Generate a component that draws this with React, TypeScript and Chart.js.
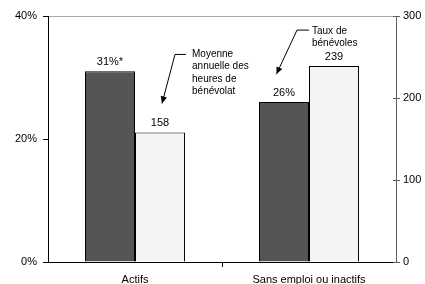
import React, { useEffect, useRef } from "react";
import { Chart, registerables } from "chart.js";

Chart.register(...registerables);

const categories = ["Actifs", "Sans emploi ou inactifs"];
const tauxBenevoles = [31, 26];
const tauxLabels = ["31%*", "26%"];
const heuresMoyennes = [158, 239];
const heuresLabels = ["158", "239"];
const leftTicks = [0, 20, 40];
const rightTicks = [0, 100, 200, 300];
const annotationHeures = ["Moyenne", "annuelle des", "heures de", "bénévolat"];
const annotationTaux = ["Taux de", "bénévoles"];

const FONT = "'Liberation Sans', Arial, Helvetica, sans-serif";

const drawArrow = (
  ctx: CanvasRenderingContext2D,
  sx: number,
  sy: number,
  ex: number,
  ey: number,
  hx: number
) => {
  ctx.save();
  ctx.strokeStyle = "#000";
  ctx.fillStyle = "#000";
  ctx.lineWidth = 1;
  ctx.beginPath();
  ctx.moveTo(hx, sy);
  ctx.lineTo(sx, sy);
  ctx.lineTo(ex, ey);
  ctx.stroke();
  const ang = Math.atan2(ey - sy, ex - sx);
  const len = 7;
  const w = 3.2;
  ctx.beginPath();
  ctx.moveTo(ex, ey);
  ctx.lineTo(
    ex - len * Math.cos(ang) + w * Math.sin(ang),
    ey - len * Math.sin(ang) - w * Math.cos(ang)
  );
  ctx.lineTo(
    ex - len * Math.cos(ang) - w * Math.sin(ang),
    ey - len * Math.sin(ang) + w * Math.cos(ang)
  );
  ctx.closePath();
  ctx.fill();
  ctx.restore();
};

const overlayPlugin = {
  id: "overlay",
  afterDatasetsDraw(chart: any) {
    const ctx: CanvasRenderingContext2D = chart.ctx;
    const metaA = chart.getDatasetMeta(0);
    const metaB = chart.getDatasetMeta(1);
    ctx.save();
    ctx.fillStyle = "#000";
    ctx.font = `11px ${FONT}`;
    ctx.textAlign = "center";
    ctx.textBaseline = "bottom";
    metaA.data.forEach((bar: any, i: number) => {
      ctx.fillText(tauxLabels[i], bar.x, bar.y - 4);
    });
    metaB.data.forEach((bar: any, i: number) => {
      ctx.fillText(heuresLabels[i], bar.x, bar.y - 4);
    });

    // inward ticks on right axis
    const y1 = chart.scales.y1;
    ctx.strokeStyle = "#606060";
    ctx.lineWidth = 1;
    y1.ticks.forEach((t: any) => {
      const y = Math.round(y1.getPixelForValue(t.value)) + 0.5;
      ctx.beginPath();
      ctx.moveTo(y1.left - 3, y);
      ctx.lineTo(y1.left, y);
      ctx.stroke();
    });

    // annotations
    ctx.font = `10px ${FONT}`;
    ctx.textAlign = "left";
    ctx.textBaseline = "middle";
    const b1 = metaB.data[0];
    const tx1 = b1.x + 32;
    const ty1 = b1.y - 78;
    annotationHeures.forEach((s, i) => ctx.fillText(s, tx1, ty1 + i * 12.3));
    drawArrow(ctx, b1.x + 15, ty1, b1.x + 2, b1.y - 29, b1.x + 26);

    const b2 = metaA.data[1];
    const tx2 = b2.x + 28;
    const ty2 = b2.y - 71;
    annotationTaux.forEach((s, i) => ctx.fillText(s, tx2, ty2 + i * 12.5));
    drawArrow(ctx, b2.x + 13, ty2 - 1, b2.x - 7.5, b2.y - 28, b2.x + 25);
    ctx.restore();
  },
};

export default function App() {
  const ref = useRef<HTMLCanvasElement | null>(null);
  useEffect(() => {
    if (!ref.current) return;
    Chart.defaults.font.family = FONT;
    Chart.defaults.color = "#000";
    const chart = new Chart(ref.current, {
      type: "bar",
      data: {
        labels: categories,
        datasets: [
          {
            label: "Taux de bénévoles",
            data: tauxBenevoles,
            yAxisID: "y",
            backgroundColor: "#555555",
            borderColor: "#000",
            borderWidth: 1,
            categoryPercentage: 0.575,
            barPercentage: 1,
          },
          {
            label: "Moyenne annuelle des heures de bénévolat",
            data: heuresMoyennes,
            yAxisID: "y1",
            backgroundColor: "#f4f4f4",
            borderColor: "#000",
            borderWidth: 1,
            categoryPercentage: 0.575,
            barPercentage: 1,
          },
        ],
      },
      options: {
        responsive: false,
        animation: false,
        layout: { padding: { top: 16, left: 0, right: 0, bottom: 0 } },
        plugins: { legend: { display: false }, tooltip: { enabled: false } },
        scales: {
          x: {
            offset: true,
            grid: {
              offset: true,
              drawOnChartArea: false,
              tickLength: 5,
              tickColor: (c: any) => (c.index === 1 ? "#000" : "transparent"),
            },
            border: { color: "#000", width: 1 },
            ticks: { font: { size: 11 }, color: "#000", padding: 6 },
            afterFit: (s: any) => {
              s.height = 22;
            },
          },
          y: {
            position: "left",
            min: 0,
            max: 40,
            afterBuildTicks: (s: any) => {
              s.ticks = leftTicks.map((v) => ({ value: v }));
            },
            ticks: {
              callback: (v: any) => `${v}%`,
              font: { size: 11 },
              color: "#000",
              padding: 6,
            },
            grid: {
              color: (c: any) => (c.tick && c.tick.value === 40 ? "#aaaaaa" : "transparent"),
              tickColor: "#000",
              tickLength: 5,
            },
            border: { color: "#000", width: 1 },
            afterFit: (s: any) => {
              s.width = 48;
            },
          },
          y1: {
            position: "right",
            min: 0,
            max: 300,
            afterBuildTicks: (s: any) => {
              s.ticks = rightTicks.map((v) => ({ value: v }));
            },
            ticks: { font: { size: 11 }, color: "#000", padding: 3 },
            grid: {
              drawOnChartArea: false,
              tickColor: "#606060",
              tickLength: 4,
            },
            border: { color: "#606060", width: 1 },
            afterFit: (s: any) => {
              s.width = 29;
            },
          },
        },
      },
      plugins: [overlayPlugin],
    });
    return () => chart.destroy();
  }, []);
  return (
    <div style={{ position: "fixed", left: 0, top: 0, width: 425, height: 284, background: "#fff" }}>
      <canvas ref={ref} width={425} height={284} />
    </div>
  );
}
